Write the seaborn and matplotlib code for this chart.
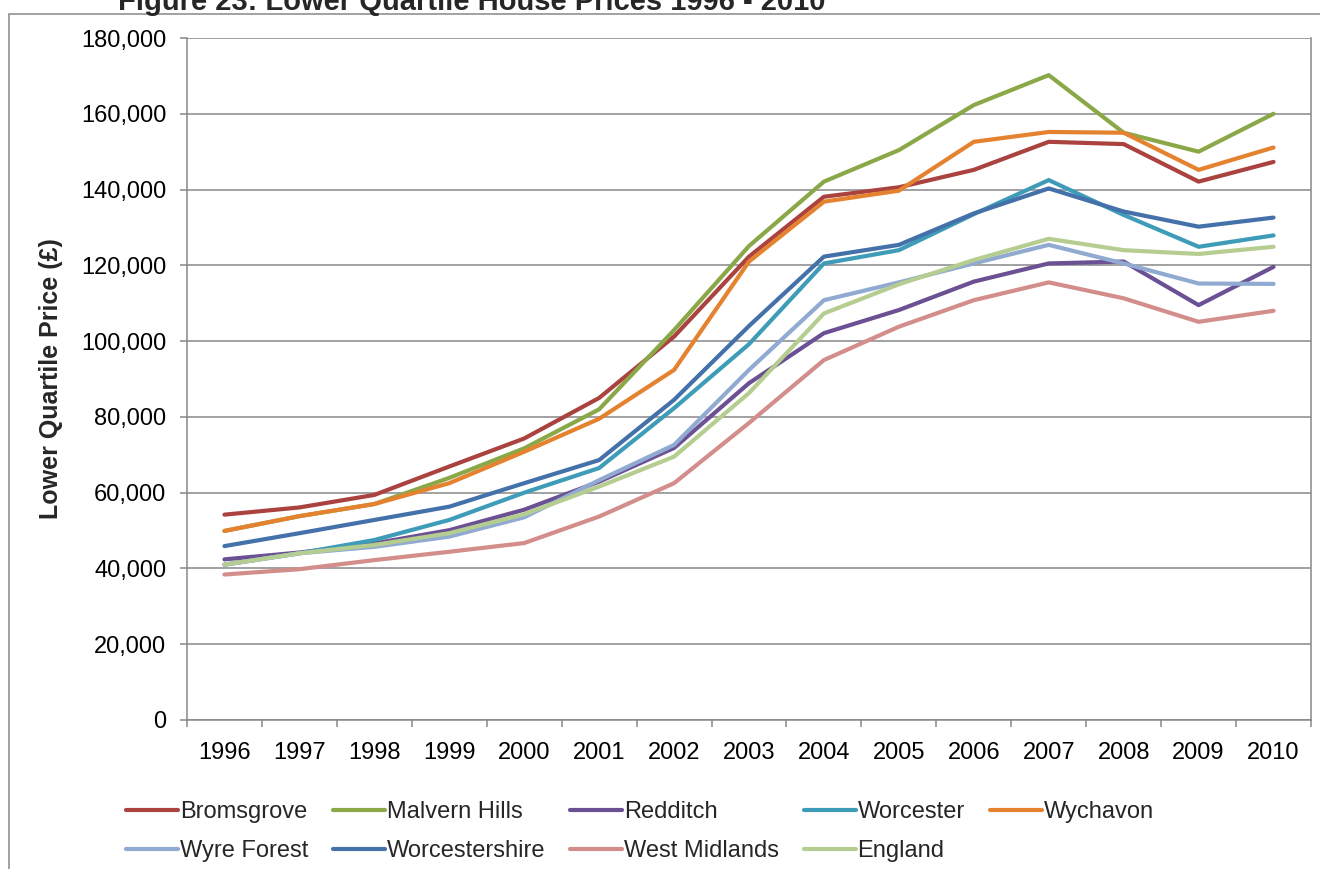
import pandas as pd
import matplotlib
matplotlib.use("Agg")
import matplotlib.pyplot as plt
import seaborn as sns
from matplotlib.patches import Rectangle
from matplotlib.ticker import FuncFormatter, MultipleLocator

# lower quartile house prices (GBP)
years = list(range(1996, 2011))
bromsgrove = [54200, 56100, 59400, 66900, 74300, 85000, 101200, 122300, 138100, 140600, 145200, 152600, 152000, 142100, 147300]
malvern_hills = [49900, 53800, 57000, 63900, 71700, 82000, 102900, 125100, 142100, 150400, 162300, 170200, 155000, 150000, 160000]
redditch = [42400, 44200, 46600, 50100, 55500, 62900, 71800, 88900, 102100, 108200, 115700, 120500, 121000, 109500, 119600]
worcester = [41000, 44000, 47500, 52800, 60000, 66500, 82300, 99200, 120500, 124000, 133500, 142500, 133300, 124900, 127900]
wychavon = [49900, 53800, 57000, 62500, 70800, 79500, 92400, 121000, 136800, 139700, 152600, 155200, 155000, 145200, 151100]
wyre_forest = [41000, 44000, 45700, 48400, 53500, 63300, 72600, 92400, 110800, 115500, 120500, 125400, 120500, 115200, 115100]
worcestershire = [45900, 49300, 52800, 56300, 62500, 68600, 84500, 104000, 122300, 125400, 133700, 140300, 134200, 130200, 132600]
west_midlands = [38400, 39800, 42200, 44400, 46700, 53700, 62500, 78400, 95000, 103800, 110800, 115500, 111300, 105100, 108000]
england = [41000, 44000, 46200, 49300, 54300, 61600, 69500, 86300, 107300, 115000, 121400, 127000, 124000, 123000, 124900]

areas = ["Bromsgrove", "Malvern Hills", "Redditch", "Worcester", "Wychavon",
         "Wyre Forest", "Worcestershire", "West Midlands", "England"]
series = [bromsgrove, malvern_hills, redditch, worcester, wychavon,
          wyre_forest, worcestershire, west_midlands, england]
colors = ["#AA4340", "#8AA848", "#6B5193", "#3E9CB8", "#E5822F",
          "#90AAD2", "#4471A9", "#D38D8B", "#B5CD90"]

rows = []
for name, vals in zip(areas, series):
    for y, v in zip(years, vals):
        rows.append({"Year": y, "Price": v, "Area": name})
df = pd.DataFrame(rows)

sns.set_style("white")
plt.rcParams["font.family"] = ["Liberation Sans", "DejaVu Sans"]

fig = plt.figure(figsize=(13.2, 8.69), dpi=100)
ax = fig.add_axes([187 / 1320, 1 - 720 / 869, 1124 / 1320, 682 / 869])

sns.lineplot(data=df, x="Year", y="Price", hue="Area", hue_order=areas,
             palette=dict(zip(areas, colors)), estimator=None, sort=False,
             linewidth=3, ax=ax)
for ln in ax.get_lines():
    ln.set_solid_capstyle("round")
    ln.set_solid_joinstyle("round")

grey = "#878787"
ax.set_xlim(1995.5, 2010.5)
ax.set_ylim(0, 180000)
ax.yaxis.set_major_locator(MultipleLocator(20000))
ax.yaxis.set_major_formatter(FuncFormatter(lambda v, p: f"{int(v):,}"))
ax.set_xticks(years)
ax.set_xticks([y - 0.5 for y in years] + [2010.5], minor=True)
ax.grid(axis="y", color=grey, linewidth=1.1)
ax.set_axisbelow(True)
for s in ["left", "bottom", "right"]:
    ax.spines[s].set_color(grey)
    ax.spines[s].set_linewidth(1.1)
ax.spines["top"].set_visible(False)

ax.tick_params(axis="x", which="major", length=0, pad=16, labelsize=17, labelcolor="black")
ax.tick_params(axis="x", which="minor", length=5, width=1.1, color=grey, direction="out", bottom=True)
ax.tick_params(axis="y", length=5, width=1.1, color=grey, direction="out", pad=10,
               labelsize=17, labelcolor="black", left=True)

ax.set_xlabel("")
ax.set_ylabel("Lower Quartile Price (£)", fontsize=18, fontweight="bold", va="center")
ax.yaxis.set_label_coords(-0.121, 0.5)

# title is clipped by the top edge, as in the source image
fig.text(118 / 1320, 1 - 10 / 869, "Figure 23: Lower Quartile House Prices 1996 - 2010",
         fontsize=21, fontweight="bold", va="baseline", ha="left")

# chart area border
fig.patches.append(Rectangle((9 / 1320, -0.1), 1.2, 1.1 - 14 / 869,
                             transform=fig.transFigure, fill=False,
                             edgecolor=grey, linewidth=1.1, zorder=0))

# legend filled row by row (matplotlib fills columns first)
leg_order = [0, 5, 1, 6, 2, 7, 3, 8, 4]
handles, labels = ax.get_legend_handles_labels()
handles = [handles[i] for i in leg_order]
labels = [labels[i] for i in leg_order]
ax.get_legend().remove()
leg = ax.legend(handles, labels, loc="upper left",
                bbox_to_anchor=(126 / 1320, 1 - 801 / 869),
                bbox_transform=fig.transFigure, ncol=5, frameon=False,
                fontsize=17, handlelength=2.2, handletextpad=0.08,
                columnspacing=1.05, labelspacing=0.72, borderpad=0, borderaxespad=0)
for h in leg.legend_handles:
    h.set_linewidth(3)

fig.savefig("out.png", dpi=100)
